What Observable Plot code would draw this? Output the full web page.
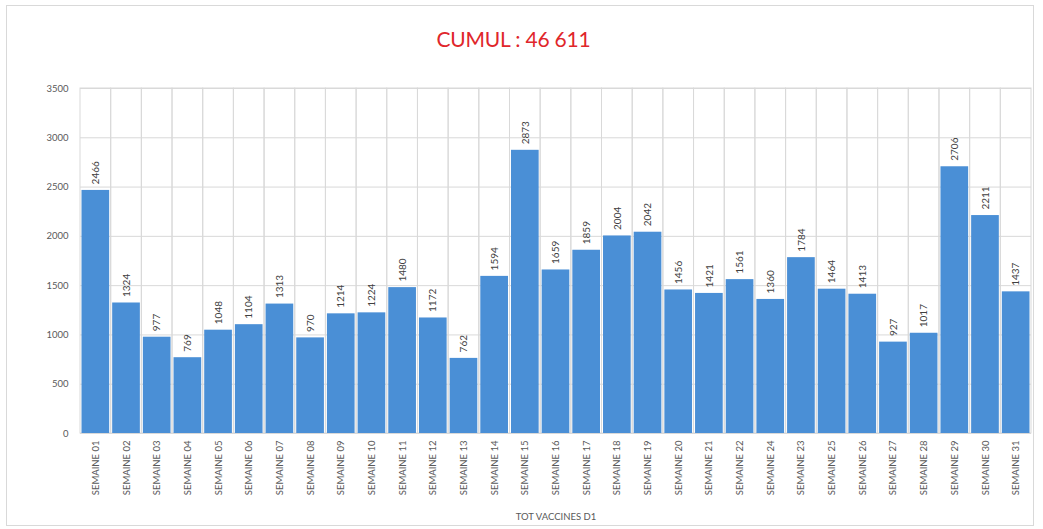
<!DOCTYPE html>
<html>
<head>
<meta charset="utf-8">
<script src="https://cdn.jsdelivr.net/npm/d3@7"></script>
<script src="https://cdn.jsdelivr.net/npm/@observablehq/plot@0.6"></script>
<style>
  html, body { margin: 0; padding: 0; background: #fff; }
  #wrap { position: relative; width: 1043px; height: 529px; overflow: hidden; font-family: Lato, "Open Sans", sans-serif; }
  #frame { position: absolute; left: 6px; top: 5px; width: 1028px; height: 521px; border: 1px solid #d9d9d9; box-sizing: border-box; }
  #title { position: absolute; left: 0; top: 26px; width: 1027px; text-align: center; font-size: 21px; color: #e0262b; letter-spacing: -0.2px; }
  #chart { position: absolute; left: 0; top: 0; }
</style>
</head>
<body>
<div id="wrap">
  <div id="frame"></div>
  <div id="title"></div>
  <div id="chart"></div>
</div>
<script>
// Weekly first-dose vaccinations (order as listed in the source table)
const weeks = [
  "SEMAINE 01", "SEMAINE 02", "SEMAINE 03", "SEMAINE 04", "SEMAINE 05", "SEMAINE 06",
  "SEMAINE 07", "SEMAINE 08", "SEMAINE 09", "SEMAINE 10", "SEMAINE 11", "SEMAINE 12",
  "SEMAINE 13", "SEMAINE 14", "SEMAINE 15", "SEMAINE 16", "SEMAINE 17", "SEMAINE 18",
  "SEMAINE 19", "SEMAINE 20", "SEMAINE 21", "SEMAINE 22", "SEMAINE 24", "SEMAINE 23",
  "SEMAINE 25", "SEMAINE 26", "SEMAINE 27", "SEMAINE 28", "SEMAINE 29", "SEMAINE 30",
  "SEMAINE 31"
];
const doses = [
  2466, 1324, 977, 769, 1048, 1104,
  1313, 970, 1214, 1224, 1480, 1172,
  762, 1594, 2873, 1659, 1859, 2004,
  2042, 1456, 1421, 1561, 1360, 1784,
  1464, 1413, 927, 1017, 2706, 2211,
  1437
];
const yTicks = [0, 500, 1000, 1500, 2000, 2500, 3000, 3500];
const axisTitle = "TOT VACCINES D1";

const rows = weeks.map((w, i) => ({week: w, value: doses[i]}));
const total = d3.sum(doses);
document.getElementById("title").textContent =
  "CUMUL : " + d3.format(",")(total).replace(/,/g, " ");

const grid = "#d9d9d9";
const ink = "#595959";

const chart = Plot.plot({
  width: 1043,
  height: 529,
  marginTop: 88,
  marginBottom: 96,
  marginLeft: 80,
  marginRight: 12,
  style: {fontFamily: "Lato, 'Open Sans', sans-serif", background: "transparent", overflow: "visible"},
  x: {domain: weeks, padding: 0, round: false},
  y: {domain: [0, 3500]},
  marks: [
    Plot.gridY(yTicks, {stroke: grid, strokeOpacity: 1}),
    // category cell outlines (vertical grid at band edges)
    Plot.barY(weeks, {x: d => d, y1: 0, y2: 3500, fill: "none", stroke: grid}),
    Plot.barY(rows, {x: "week", y: "value", fill: "#4a8fd6", insetLeft: 1.5, insetRight: 1.5}),
    Plot.text(rows, {
      x: "week", y: "value", text: d => String(d.value),
      rotate: -90, textAnchor: "start", dy: -6,
      fontSize: 10, fill: "#404040"
    }),
    Plot.axisY(yTicks, {tickSize: 0, tickPadding: 12, fontSize: 9.5, color: ink, label: null, tickFormat: d => String(d)}),
    Plot.axisX({
      tickSize: 0, tickPadding: 7, tickRotate: -90, fontSize: 9.5, color: ink,
      label: axisTitle, labelAnchor: "center", labelOffset: 86
    })
  ]
});
document.getElementById("chart").appendChild(chart);
</script>
</body>
</html>
